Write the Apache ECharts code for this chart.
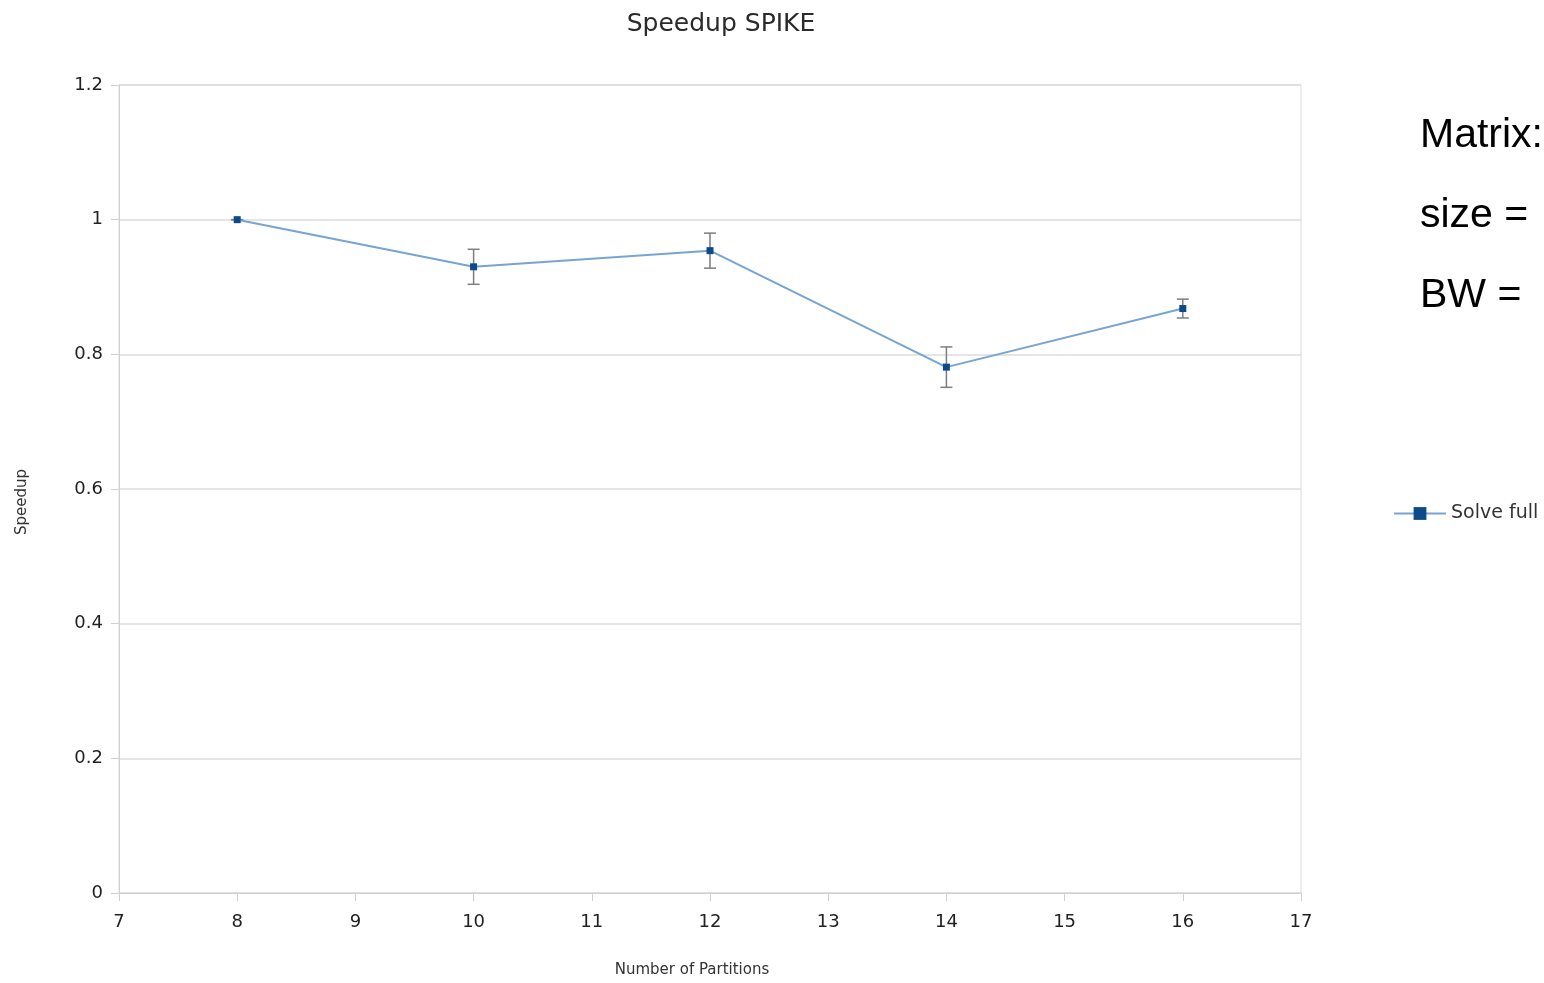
<!DOCTYPE html>
<html>
<head>
<meta charset="utf-8">
<script src="https://cdn.jsdelivr.net/npm/echarts@6/dist/echarts.min.js"></script>
<style>
  html, body { margin: 0; padding: 0; background: #fff; }
  #chart { width: 1544px; height: 983px; }
</style>
</head>
<body>
<div id="chart"></div>
<script>
const PARTITIONS = [8, 10, 12, 14, 16];
const SPEEDUP = [1.0, 0.93, 0.954, 0.781, 0.868];
const ERROR = [0.0, 0.026, 0.026, 0.03, 0.014];
const NOTES = ["Matrix:", "size =", "BW = \u20091"];

const chart = echarts.init(document.getElementById("chart"));
const FONT = "DejaVu Sans, sans-serif";
const NOTE_FONT = "Liberation Sans, Arial, sans-serif";

const lineData = PARTITIONS.map((x, i) => [x, SPEEDUP[i]]);
const errData = PARTITIONS.map((x, i) => [x, SPEEDUP[i] - ERROR[i], SPEEDUP[i] + ERROR[i]]);

function renderErrorBar(params, api) {
  const x = api.value(0);
  const lo = api.coord([x, api.value(1)]);
  const hi = api.coord([x, api.value(2)]);
  const half = 6;
  const style = { stroke: "#7d7d7d", lineWidth: 1.5 };
  return {
    type: "group",
    children: [
      { type: "line", shape: { x1: hi[0], y1: hi[1], x2: lo[0], y2: lo[1] }, style },
      { type: "line", shape: { x1: hi[0] - half, y1: hi[1], x2: hi[0] + half, y2: hi[1] }, style },
      { type: "line", shape: { x1: lo[0] - half, y1: lo[1], x2: lo[0] + half, y2: lo[1] }, style },
    ],
  };
}

const option = {
  animation: false,
  title: {
    text: "Speedup SPIKE",
    left: 716,
    top: 7,
    textAlign: "center",
    textStyle: { fontFamily: FONT, fontSize: 25, fontWeight: "normal", color: "#2a2a2a" },
  },
  grid: {
    left: 119, right: 243, top: 85, bottom: 88,
    show: true, borderColor: "#dcdcdc", borderWidth: 1,
  },
  legend: {
    left: 1388,
    top: 499,
    orient: "vertical",
    itemWidth: 52,
    itemHeight: 16,
    itemGap: 4,
    textStyle: { fontFamily: FONT, fontSize: 19, color: "#333" },
    data: ["Solve full"],
  },
  xAxis: {
    type: "value",
    min: 7, max: 17, interval: 1,
    name: "Number of Partitions",
    nameLocation: "middle",
    nameGap: 70,
    nameTextStyle: { fontFamily: FONT, fontSize: 15, color: "#333", padding: [0, 36, 0, 0] },
    axisLine: { show: true, lineStyle: { color: "#d0d0d0" } },
    axisTick: { show: true, length: 8, lineStyle: { color: "#d0d0d0" } },
    axisLabel: { fontFamily: FONT, fontSize: 18, color: "#222", margin: 20 },
    splitLine: { show: false },
  },
  yAxis: {
    type: "value",
    min: 0, max: 1.2, interval: 0.2,
    name: "Speedup",
    nameLocation: "middle",
    nameGap: 89,
    nameTextStyle: { fontFamily: FONT, fontSize: 15, color: "#333", padding: [0, 26, 0, 0] },
    axisLine: { show: true, lineStyle: { color: "#d0d0d0" } },
    axisTick: { show: true, length: 8, lineStyle: { color: "#d0d0d0" } },
    axisLabel: { fontFamily: FONT, fontSize: 18, color: "#222", margin: 16 },
    splitLine: { show: true, lineStyle: { color: "#dcdcdc", width: 1.5 } },
  },
  series: [
    {
      name: "Solve full",
      type: "line",
      data: lineData,
      symbol: "rect",
      symbolSize: 7,
      lineStyle: { color: "#76a4d4", width: 2 },
      itemStyle: { color: "#0d4a8a" },
      z: 3,
    },
    {
      name: "err",
      type: "custom",
      renderItem: renderErrorBar,
      data: errData,
      encode: { x: 0, y: [1, 2] },
      z: 2,
    },
  ],
  graphic: NOTES.map((t, i) => ({
    type: "text",
    left: 1420,
    top: 115 + i * 80,
    style: { text: t, fontFamily: NOTE_FONT, fontSize: 41, fill: "#000" },
  })),
};

chart.setOption(option);
</script>
</body>
</html>
